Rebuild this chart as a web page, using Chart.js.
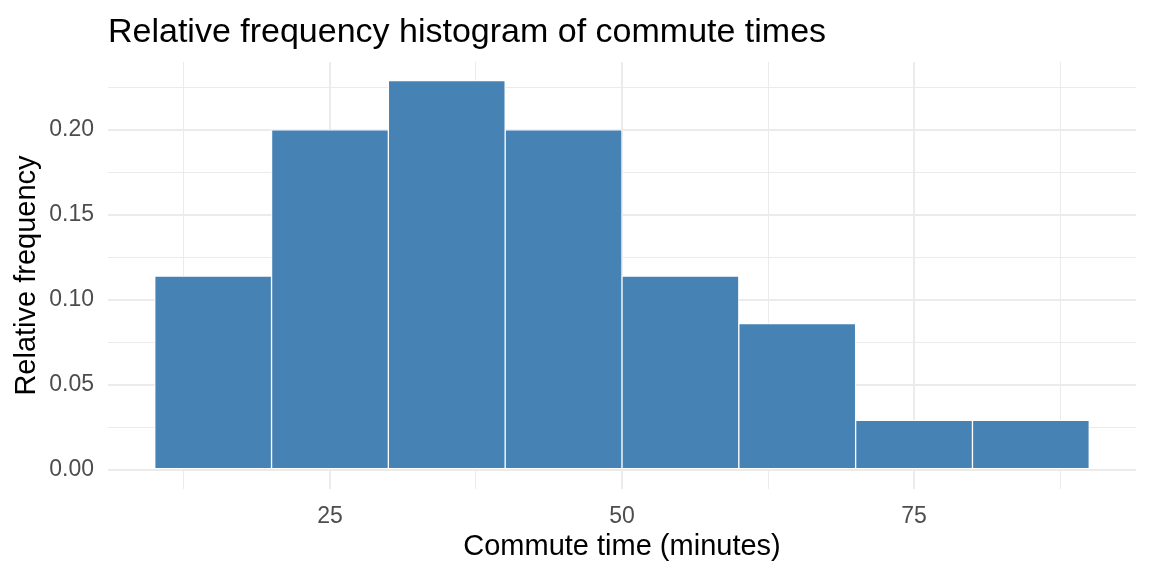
<!DOCTYPE html>
<html>
<head>
<meta charset="utf-8">
<script src="https://cdn.jsdelivr.net/npm/chart.js@4/dist/chart.umd.min.js"></script>
<style>
  html, body { margin: 0; padding: 0; background: #fff; }
  #wrap { width: 1152px; height: 576px; }
</style>
</head>
<body>
<div id="wrap"><canvas id="chart"></canvas></div>
<script>
// histogram bins (minutes), width 10
const binCenters = [15, 25, 35, 45, 55, 65, 75, 85];
const relFreq = [0.114, 0.200, 0.229, 0.200, 0.114, 0.086, 0.029, 0.029];

// grid / tick positions (major ones get labels)
const xGridValues = [12.5, 25, 37.5, 50, 62.5, 75, 87.5];
const xMajor = [25, 50, 75];
const yGridValues = [0, 0.025, 0.05, 0.075, 0.1, 0.125, 0.15, 0.175, 0.2, 0.225];
const yMajor = [0, 0.05, 0.1, 0.15, 0.2];

const FONT = "'Liberation Sans', Arial, sans-serif";
const isMajor = (list, v) => list.some(m => Math.abs(m - v) < 1e-9);

const titlePlugin = {
  id: 'leftTitle',
  afterDraw(chart) {
    const ctx = chart.ctx;
    ctx.save();
    ctx.font = '34px ' + FONT;
    ctx.fillStyle = '#000';
    ctx.textAlign = 'left';
    ctx.textBaseline = 'alphabetic';
    ctx.fillText('Relative frequency histogram of commute times', chart.chartArea.left, 42);
    ctx.restore();
  }
};

new Chart(document.getElementById('chart').getContext('2d'), {
  type: 'bar',
  data: {
    datasets: [{
      data: binCenters.map((x, i) => ({ x: x, y: relFreq[i] })),
      backgroundColor: '#4682B4',
      borderColor: '#ffffff',
      borderWidth: 1,
      borderSkipped: false,
      barPercentage: 1,
      categoryPercentage: 1
    }]
  },
  options: {
    responsive: true,
    maintainAspectRatio: false,
    animation: false,
    layout: { padding: { top: 62, right: 16, left: 0, bottom: 0 } },
    plugins: {
      legend: { display: false },
      tooltip: { enabled: false },
      title: { display: false }
    },
    scales: {
      x: {
        type: 'linear',
        min: 6,
        max: 94,
        offset: false,
        border: { display: false },
        grid: {
          offset: false,
          drawTicks: false,
          color: '#ebebeb',
          lineWidth: c => isMajor(xMajor, c.tick.value) ? 2 : 1
        },
        afterBuildTicks: s => { s.ticks = xGridValues.map(v => ({ value: v })); },
        afterFit: s => { s.height = 87; },
        ticks: {
          autoSkip: false,
          maxRotation: 0,
          padding: 14,
          color: '#4d4d4d',
          font: { family: FONT, size: 23 },
          callback: v => isMajor(xMajor, v) ? String(v) : ''
        },
        title: {
          display: true,
          text: 'Commute time (minutes)',
          color: '#000',
          font: { family: FONT, size: 29 },
          padding: { top: 0, bottom: 12 }
        }
      },
      y: {
        min: -0.0114,
        max: 0.24,
        border: { display: false },
        grid: {
          drawTicks: false,
          color: '#ebebeb',
          lineWidth: c => isMajor(yMajor, c.tick.value) ? 2 : 1
        },
        afterBuildTicks: s => { s.ticks = yGridValues.map(v => ({ value: v })); },
        afterFit: s => { s.width = 108; },
        ticks: {
          autoSkip: false,
          padding: 14,
          color: '#4d4d4d',
          font: { family: FONT, size: 23 },
          callback: v => isMajor(yMajor, v) ? v.toFixed(2) : ''
        },
        title: {
          display: true,
          text: 'Relative frequency',
          color: '#000',
          font: { family: FONT, size: 29 },
          padding: { top: 10, bottom: 0 }
        }
      }
    }
  },
  plugins: [titlePlugin]
});
</script>
</body>
</html>
